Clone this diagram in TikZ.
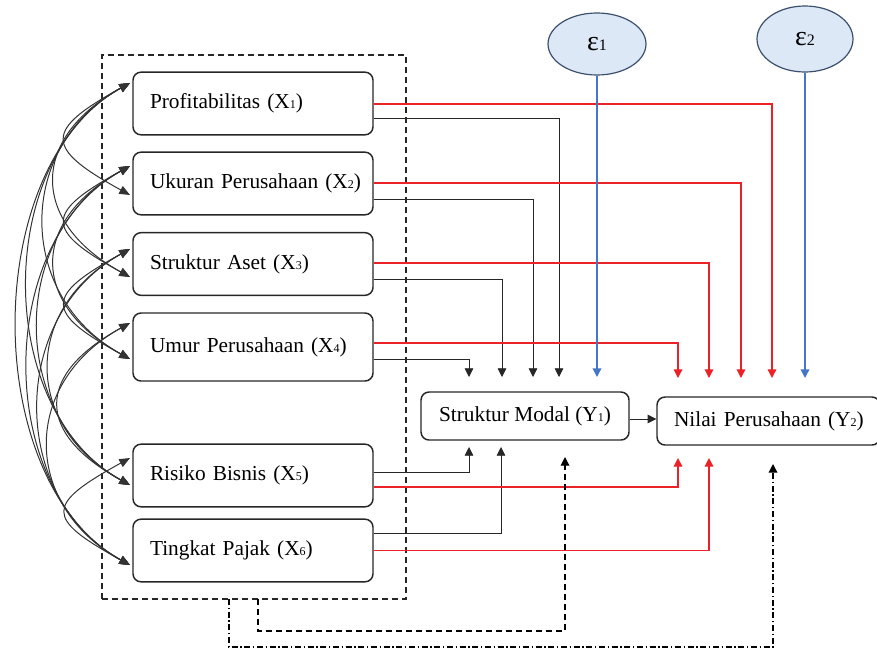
\documentclass[tikz,border=0pt]{standalone}
\usepackage{fontspec}
\setmainfont{Liberation Serif}
\usetikzlibrary{arrows.meta,shapes.geometric,calc}
\definecolor{myred}{RGB}{235,35,40}
\definecolor{myblue}{RGB}{68,118,200}
\definecolor{efill}{RGB}{220,232,246}
\definecolor{eline}{RGB}{60,80,110}
\newcommand\subx[1]{{\fontsize{9}{9}\selectfont #1}}
\begin{document}
\begin{tikzpicture}[x=0.75pt,y=-0.75pt,
  box/.style={draw=black!85, line width=1.1pt, rounded corners=6pt, font=\fontsize{16}{19}\selectfont},
  xbox/.style={box, minimum width=180pt, minimum height=47pt, inner xsep=12.75pt, text width=154.5pt, align=left},
  ebox/.style={draw=eline, fill=efill, line width=0.9pt, ellipse, font=\fontsize{21}{22}\selectfont},
  arr/.style={-{Triangle[length=6.5pt,width=6.5pt]}},
  blk/.style={arr, draw=black!85, line width=0.6pt},
  redc/.style={arr, draw=myred, line width=0.95pt},
  bluec/.style={arr, draw=myblue, line width=1pt},
  dashc/.style={arr, draw=black, line width=0.9pt, dash pattern=on 4.5pt off 3pt},
  dotc/.style={arr, draw=black, line width=0.9pt, dash pattern=on 4.5pt off 2pt on 1pt off 2pt},
  curve/.style={{Triangle[length=8pt,width=6.5pt]}-{Triangle[length=8pt,width=6.5pt]}, draw=black!80, line width=0.75pt}]
\useasboundingbox (0,0) rectangle (877,650);
\clip (0,0) rectangle (877,650);
% group frame
\node[draw=black!85, line width=0.9pt, dash pattern=on 4.5pt off 3pt, minimum width=228pt, minimum height=408pt, inner sep=0pt] (grp) at (254,327) {};
% X boxes
\node[xbox] (x1) at (253,103.5) {\mbox{Profitabilitas (X\subx{1})}};
\node[xbox] (x2) at (253,183.5) {\mbox{Ukuran Perusahaan (X\subx{2})}};
\node[xbox] (x3) at (253,264) {\mbox{Struktur Aset (X\subx{3})}};
\node[xbox, minimum height=51pt] (x4) at (253,347) {\mbox{Umur Perusahaan (X\subx{4})}};
\node[xbox] (x5) at (253,475.5) {\mbox{Risiko Bisnis (X\subx{5})}};
\node[xbox] (x6) at (253,550.5) {\mbox{Tingkat Pajak (X\subx{6})}};
% Y boxes
\node[box, minimum width=156pt, minimum height=36pt] (y1) at (525,416) {Struktur Modal (Y\subx{1})};
\node[box, minimum width=167pt, minimum height=36pt, inner xsep=12.75pt, text width=141.75pt, align=left] (y2) at (768.5,421) {\mbox{Nilai Perusahaan (Y\subx{2})}};
% error terms
\node[ebox, minimum width=73.5pt, minimum height=46.5pt] (e1) at (597,44) {ε{\fontsize{12}{12}\selectfont 1}};
\node[ebox, minimum width=72pt, minimum height=49.5pt] (e2) at (805,39) {ε{\fontsize{12}{12}\selectfont 2}};
% target coordinates
\coordinate (a1) at (469,377); \coordinate (a2) at (502,377);
\coordinate (a3) at (533,377); \coordinate (a4) at (559,377);
\coordinate (ae) at (597,377);
\coordinate (b1) at (678,378); \coordinate (b2) at (709,378);
\coordinate (b3) at (741,378); \coordinate (b4) at (772,378);
\coordinate (be) at (805,378);
\coordinate (c5) at (469,447); \coordinate (c6) at (501,447);
\coordinate (cd) at (565,457);
\coordinate (d5) at (678,458); \coordinate (d6) at (709,458);
\coordinate (dd) at (773,464);
\coordinate (g1) at (258,599); \coordinate (g2) at (229,599);
% black paths to Y1
\draw[blk] ([yshift=-11.25pt]x1.east) -| (a4);
\draw[blk] ([yshift=-11.6pt]x2.east) -| (a3);
\draw[blk] ([yshift=-11.25pt]x3.east) -| (a2);
\draw[blk] ([yshift=-9pt]x4.east) -| (a1);
\draw[blk] ([yshift=2.6pt]x5.east) -| (c5);
\draw[blk] ([yshift=13pt]x6.east) -| (c6);
% red paths to Y2
\draw[redc] ([yshift=-0.375pt]x1.east) -| (b4);
\draw[redc] ([yshift=0.375pt]x2.east) -| (b3);
\draw[redc] ([yshift=0.75pt]x3.east) -| (b2);
\draw[redc] ([yshift=3pt]x4.east) -| (b1);
\draw[redc] ([yshift=-8.6pt]x5.east) -| (d5);
\draw[redc] (x6.east) -| (d6);
% errors
\draw[bluec] (e1) -- (ae);
\draw[bluec] (e2) -- (be);
% Y1 -> Y2
\draw[blk] ([yshift=-2.25pt]y1.east) -- ([yshift=-2.25pt]y1.east -| y2.west);
% dashed group paths
\draw[dashc] (g1) -- (258,631) -| (cd);
\draw[dotc] (g2) -- (229,647) -| (dd);
% correlation curves
\coordinate (u1) at (130,83);  \coordinate (u2) at (130,166);
\coordinate (u3) at (130,249); \coordinate (u4) at (130,323);
\coordinate (u5) at (130,458);
\coordinate (l2) at (130,195); \coordinate (l3) at (130,277);
\coordinate (l4) at (130,359); \coordinate (l5) at (130,485);
\coordinate (l6) at (130,565);
\foreach \a/\ya in {1/83,2/166,3/249,4/323,5/458}{
  \foreach \b/\yb in {2/195,3/277,4/359,5/485,6/565}{
    \ifnum\b>\a
      \pgfmathsetmacro\dd{\yb-\ya}
      \pgfmathsetmacro\kk{(50+0.13*\dd)/0.75}
      \pgfmathsetmacro\cc{0.55*\kk}
      \draw[curve] (u\a) .. controls +(-\kk,\cc) and +(-\kk,-\cc) .. (l\b);
    \fi
  }}
\end{tikzpicture}
\end{document}
